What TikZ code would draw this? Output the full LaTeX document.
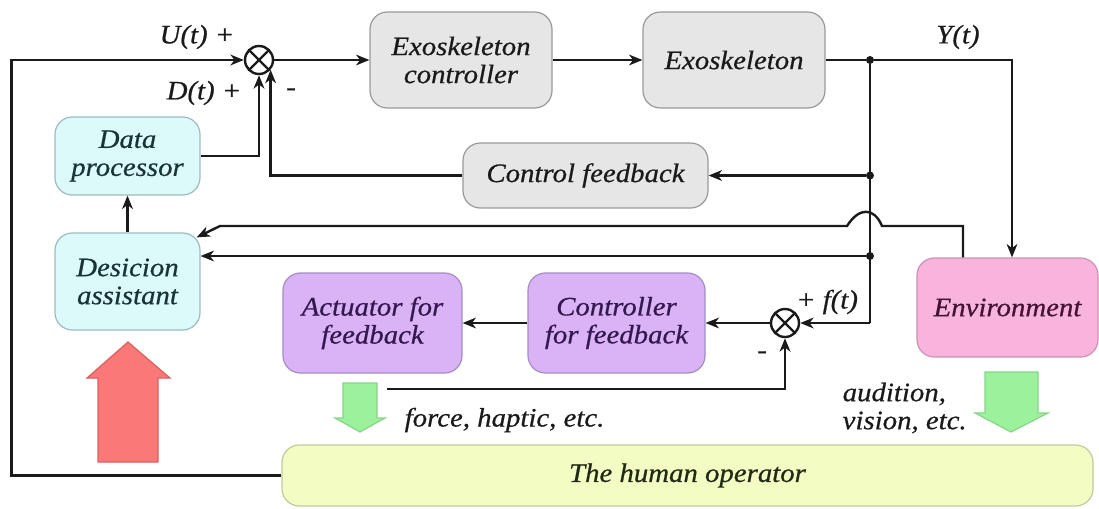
\documentclass[tikz,border=0pt]{standalone}
\usepackage{fontspec}
\setmainfont{Liberation Serif}[FakeStretch=1.08, FakeBold=0.6]
\usetikzlibrary{arrows.meta,calc}
\definecolor{grayfill}{HTML}{E6E6E6}
\definecolor{grayline}{HTML}{9A9A9A}
\definecolor{cyanfill}{HTML}{DDFAFB}
\definecolor{cyanline}{HTML}{9CBCBE}
\definecolor{cyantext}{HTML}{1A3436}
\definecolor{purpfill}{HTML}{D9B3F6}
\definecolor{purpline}{HTML}{A68CC4}
\definecolor{purptext}{HTML}{34184F}
\definecolor{pinkfill}{HTML}{F9B4DD}
\definecolor{pinkline}{HTML}{CC92B4}
\definecolor{pinktext}{HTML}{421434}
\definecolor{yelfill}{HTML}{F3FCC2}
\definecolor{yelline}{HTML}{C4C89C}
\definecolor{yeltext}{HTML}{222A16}
\definecolor{redfill}{HTML}{FA7878}
\definecolor{redline}{HTML}{D86060}
\definecolor{greenfill}{HTML}{9CF29C}
\definecolor{greenline}{HTML}{86D486}
\definecolor{ink}{HTML}{1A1A1A}
\begin{document}
\begin{tikzpicture}[x=0.75pt,y=-0.75pt,
  txt/.style={font=\fontsize{20}{21}\selectfont\itshape},
  box/.style={draw, rounded corners=13pt, line width=0.9pt, align=center, inner sep=0pt, txt},
  graybox/.style={box, fill=grayfill, draw=grayline, text=ink},
  cyanbox/.style={box, fill=cyanfill, draw=cyanline, text=cyantext},
  purpbox/.style={box, fill=purpfill, draw=purpline, text=purptext},
  pinkbox/.style={box, fill=pinkfill, draw=pinkline, text=pinktext},
  yelbox/.style={box, fill=yelfill, draw=yelline, text=yeltext},
  wire/.style={line width=1.8pt, ink},
  arr/.style={wire, -{Stealth[length=10pt,width=8pt,inset=3pt]}},
  sum/.style={circle, draw=ink, line width=1.8pt, minimum size=21pt, inner sep=0pt,
    path picture={\draw[line width=1.8pt, ink] (path picture bounding box.north west) -- (path picture bounding box.south east)
      (path picture bounding box.north east) -- (path picture bounding box.south west);}},
  dot/.style={circle, fill=ink, inner sep=0pt, minimum size=6pt},
  bigarrow/.style={line width=0.9pt}
]
\useasboundingbox (0,0) rectangle (1099,508);

% nodes
\node[sum] (s1) at (259,60) {};
\node[sum] (s2) at (785,323) {};
\node[graybox, minimum width=136.5pt, minimum height=72pt] (ec) at (461,60) {Exoskeleton\\controller};
\node[graybox, minimum width=136.5pt, minimum height=72pt] (ex) at (734,60) {Exoskeleton};
\node[graybox, minimum width=183.75pt, minimum height=48.75pt] (cf) at (585.5,175.5) {Control feedback};
\node[cyanbox, minimum width=108.75pt, minimum height=58.5pt] (dp) at (127.5,156) {Data\\processor};
\node[cyanbox, minimum width=108.75pt, minimum height=72.75pt] (da) at (127.5,281.5) {Desicion\\assistant};
\node[purpbox, minimum width=134.25pt, minimum height=75pt] (af) at (372.5,323) {Actuator for\\feedback};
\node[purpbox, minimum width=132.75pt, minimum height=75pt] (cff) at (616.5,323) {Controller\\for feedback};
\node[pinkbox, minimum width=135.75pt, minimum height=74.25pt] (env) at (1007.5,307.5) {Environment};
\node[yelbox, minimum width=608.25pt, minimum height=45.75pt] (ho) at (687.5,475.5) {The human operator};

% junction points
\node[dot] (j1) at (870,60) {};
\node[dot] (j2) at (870,175.5) {};
\node[dot] (j3) at (870,256) {};
\coordinate (j4) at (870,323);
\coordinate (m0) at (387,389);

% labels
\node[txt, text=ink] (lu) at (197,37) {U(t) +};
\node[txt, text=ink] (ld) at (204,93) {D(t) +};
\node[txt, text=ink] (lm1) at (291,92) {-};
\node[txt, text=ink] (ly) at (958,37) {Y(t)};
\node[txt, text=ink] (lf) at (827,302) {+ f(t)};
\node[txt, text=ink] (lm2) at (762,355) {-};
\node[txt, text=ink, anchor=west] (lforce) at (400,420) {force, haptic, etc.};
\node[txt, text=ink, anchor=west, align=left] (laud) at (838,408) {audition,\\vision, etc.};

% connectors
\draw[arr] (ho.west) -- ++(-270,0) |- (s1.west);
\draw[arr] (s1.east) -- (ec.west);
\draw[arr] (ec.east) -- (ex.west);
\draw[wire] (ex.east) -- (j1);
\draw[arr] (j1) -| ($(env.north)+(4.5,0)$);
\draw[wire] (j1) -- (j4);
\draw[arr] (j4) -- (s2.east);
\draw[arr] (j2) -- (cf.east);
\draw[arr] (cf.west) -| (s1.-40);
\draw[arr] (dp.east) -| (s1.south);
\draw[arr] (da.north) -- (dp.south);
\draw[arr] (j3) -- (j3 -| da.east);
\draw[arr] ($(env.north)+(-44.5,0)$) |- (882,226)
  .. controls (874,207) and (859,207) .. (847,226)
  -- (220,226) -- ($(da.north east)+(-4,5)$);
\draw[arr] (s2.west) -- (cff.east);
\draw[arr] (cff.west) -- (af.east);
\draw[arr] (m0) -| (s2.south);

% big arrows
\draw[bigarrow, fill=redfill, draw=redline] (128,342) -- (170,378) -- (158,378) -- (158,462) -- (98,462) -- (98,378) -- (87,378) -- cycle;
\draw[bigarrow, fill=greenfill, draw=greenline] (360,432) -- (385,418) -- (377,418) -- (377,383) -- (343,383) -- (343,418) -- (335,418) -- cycle;
\draw[bigarrow, fill=greenfill, draw=greenline] (1011,432) -- (1048,413) -- (1038,413) -- (1038,372) -- (985,372) -- (985,413) -- (975,413) -- cycle;
\end{tikzpicture}
\end{document}
